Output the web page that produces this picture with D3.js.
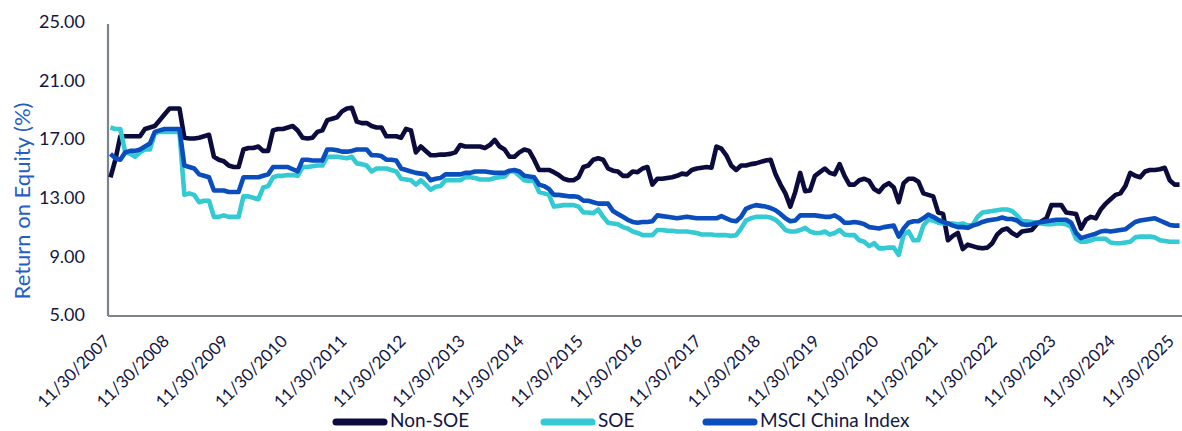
<!DOCTYPE html>
<html>
<head>
<meta charset="utf-8">
<script src="https://cdn.jsdelivr.net/npm/d3@7"></script>
<style>
  html, body { margin: 0; padding: 0; background: #ffffff; }
  svg { display: block; font-family: Lato, "Noto Sans", sans-serif; }
</style>
</head>
<body>
<svg id="chart" width="1182" height="431"></svg>
<script>
// ---- data (monthly, Nov 2007 .. Dec 2025) ----
const firstYear = 2007;
const firstMonth = 10; // November (0-based)
const tickLabels = ["11/30/2007","11/30/2008","11/30/2009","11/30/2010","11/30/2011","11/30/2012",
  "11/30/2013","11/30/2014","11/30/2015","11/30/2016","11/30/2017","11/30/2018","11/30/2019",
  "11/30/2020","11/30/2021","11/30/2022","11/30/2023","11/30/2024","11/30/2025"];
const yTicks = [5, 9, 13, 17, 21, 25];
const seriesNames = ["Non-SOE", "SOE", "MSCI China Index"];

const nonSOE = [
  14.4,15.6,17.2,17.2,17.2,17.2,17.2,17.7,17.8,17.9,18.3,18.7,
  19.1,19.1,19.1,17.1,17.05,17.05,17.1,17.2,17.3,15.8,15.6,15.5,
  15.2,15.1,15.1,16.3,16.4,16.4,16.5,16.2,16.2,17.6,17.7,17.7,
  17.8,17.9,17.6,17.1,17.05,17.1,17.5,17.6,18.3,18.4,18.5,18.9,
  19.1,19.15,18.2,18.1,18.1,17.9,17.8,17.8,17.2,17.2,17.2,17.1,
  17.7,17.6,16.1,16.5,16.2,15.9,15.9,15.95,15.95,16.0,16.1,16.6,
  16.5,16.5,16.5,16.5,16.4,16.6,16.95,16.5,16.3,15.8,15.8,16.1,
  16.3,16.2,15.6,14.9,14.9,14.9,14.75,14.55,14.3,14.2,14.2,14.4,
  15.1,15.2,15.6,15.7,15.6,15.0,14.85,14.8,14.5,14.5,14.8,14.75,
  15.0,15.1,13.9,14.3,14.3,14.35,14.4,14.5,14.65,14.6,14.9,15.0,
  15.05,15.1,15.05,16.5,16.35,15.9,15.2,14.9,15.2,15.2,15.3,15.35,
  15.45,15.55,15.6,14.6,13.9,13.3,12.4,13.4,14.7,13.45,13.5,14.5,
  14.75,15.0,14.7,14.6,15.3,14.5,13.9,13.9,14.2,14.3,14.15,13.6,
  13.4,13.8,14.0,13.7,12.7,14.0,14.3,14.3,14.1,13.3,13.2,13.1,
  12.0,11.9,10.1,10.4,10.6,9.5,9.8,9.7,9.6,9.55,9.6,9.9,
  10.5,10.8,10.9,10.6,10.4,10.7,10.75,10.8,11.2,11.4,11.6,12.5,
  12.5,12.5,12.0,11.95,11.9,10.9,11.5,11.7,11.6,12.2,12.6,12.9,
  13.2,13.3,13.8,14.7,14.5,14.4,14.8,14.9,14.9,14.95,15.05,14.2,
  13.9,13.9
];
const soe = [
  17.8,17.7,17.7,16.1,16.0,15.8,16.1,16.3,16.3,17.4,17.5,17.5,
  17.5,17.5,17.5,13.2,13.3,13.2,12.7,12.8,12.8,11.7,11.7,11.8,
  11.7,11.7,11.7,13.1,13.1,13.0,12.9,13.7,13.8,14.4,14.5,14.5,
  14.55,14.55,14.5,15.1,15.1,15.15,15.2,15.2,15.8,15.8,15.8,15.75,
  15.7,15.8,15.35,15.3,15.2,14.8,15.0,15.0,15.0,14.9,14.8,14.3,
  14.25,14.2,13.9,14.2,13.9,13.55,13.75,13.8,14.2,14.2,14.2,14.2,
  14.4,14.4,14.35,14.25,14.25,14.25,14.35,14.4,14.45,14.8,14.8,14.5,
  14.2,14.15,14.15,13.4,13.3,13.2,12.4,12.45,12.5,12.5,12.5,12.4,
  12.0,12.0,11.95,12.2,11.7,11.3,11.25,11.2,11.0,10.9,10.7,10.6,
  10.45,10.45,10.45,10.8,10.8,10.75,10.75,10.7,10.7,10.7,10.65,10.6,
  10.5,10.5,10.5,10.45,10.45,10.45,10.4,10.45,10.9,11.45,11.6,11.7,
  11.7,11.7,11.65,11.5,11.2,10.8,10.7,10.7,10.8,10.95,10.7,10.6,
  10.6,10.7,10.5,10.6,10.8,10.5,10.45,10.45,10.1,10.0,9.7,9.9,
  9.55,9.55,9.6,9.6,9.1,10.5,10.7,10.1,10.1,11.1,11.5,11.45,
  11.3,11.25,11.25,11.25,11.2,11.25,11.1,11.15,11.7,12.0,12.05,12.1,
  12.15,12.2,12.2,12.1,11.8,11.4,11.4,11.35,11.3,11.25,11.2,11.2,
  11.25,11.25,11.2,11.0,10.2,10.0,10.0,10.1,10.2,10.2,10.2,9.95,
  9.9,9.9,9.95,10.0,10.3,10.35,10.35,10.35,10.3,10.1,10.05,10.0,
  10.0,10.0
];
const msci = [
  16.0,15.7,15.6,16.1,16.2,16.2,16.3,16.5,16.7,17.5,17.6,17.7,
  17.7,17.7,17.7,15.2,15.1,15.0,14.6,14.5,14.4,13.5,13.5,13.5,
  13.4,13.4,13.4,14.4,14.4,14.4,14.4,14.5,14.6,15.1,15.1,15.1,
  15.1,14.95,14.8,15.6,15.6,15.55,15.55,15.55,16.3,16.3,16.25,16.15,
  16.15,16.2,16.3,16.3,16.3,15.9,15.9,15.85,15.6,15.6,15.55,15.0,
  14.9,14.8,14.7,14.65,14.6,14.2,14.3,14.35,14.6,14.6,14.6,14.6,
  14.7,14.7,14.8,14.8,14.8,14.75,14.7,14.7,14.7,14.85,14.9,14.8,
  14.5,14.45,14.4,13.9,13.8,13.6,13.2,13.2,13.15,13.1,13.1,13.05,
  12.8,12.8,12.7,12.6,12.6,12.6,12.1,11.9,11.7,11.5,11.35,11.3,
  11.35,11.35,11.4,11.8,11.75,11.7,11.65,11.6,11.65,11.7,11.65,11.6,
  11.6,11.6,11.6,11.6,11.75,11.6,11.45,11.4,11.7,12.25,12.4,12.5,
  12.45,12.4,12.3,12.15,11.9,11.6,11.4,11.45,11.8,11.8,11.8,11.8,
  11.75,11.7,11.7,11.8,11.6,11.3,11.3,11.35,11.3,11.2,11.0,10.95,
  10.9,11.0,11.05,11.1,10.35,10.9,11.3,11.4,11.4,11.6,11.85,11.7,
  11.5,11.35,11.25,11.1,11.0,11.0,10.95,11.1,11.2,11.35,11.45,11.5,
  11.55,11.65,11.55,11.55,11.45,11.2,11.15,11.2,11.3,11.35,11.4,11.45,
  11.5,11.5,11.5,11.3,10.6,10.25,10.35,10.45,10.55,10.7,10.75,10.7,
  10.75,10.8,10.85,11.1,11.35,11.45,11.5,11.55,11.6,11.45,11.3,11.15,
  11.1,11.1
];

// ---- layout ----
const plotL = 108, plotR = 1182, plotT = 22, plotB = 315;
const colors = ["#0b0b3d", "#33cad3", "#0a4dbd"];
const axisColor = "#7b838c";
const textColor = "#14163f";

const svg = d3.select("#chart");
const n = nonSOE.length;
const idx = d3.range(n);
const x = d3.scalePoint().domain(idx).range([plotL, plotR]).padding(0.5);
const y = d3.scaleLinear().domain([5, 25]).range([plotB, plotT]);

// Y axis
const yAxis = svg.append("g").attr("transform", `translate(${plotL},0)`)
  .call(d3.axisLeft(y).tickValues(yTicks).tickFormat(d3.format(".2f")).tickSize(0).tickPadding(23));
yAxis.select(".domain").attr("stroke", axisColor).attr("stroke-width", 2.2)
  .attr("d", `M0,${plotT + 2}V${plotB + 1}`);
yAxis.selectAll("text").attr("fill", textColor).style("font-size", "18px")
  .style("font-family", "Lato, sans-serif");

// X axis: one label per November
const isNovember = i => (firstMonth + i) % 12 === 10;
const xTickVals = idx.filter(isNovember);
const xAxis = svg.append("g").attr("transform", `translate(0,${plotB + 1})`)
  .call(d3.axisBottom(x).tickValues(xTickVals).tickSize(0)
    .tickFormat((d, k) => tickLabels[k]));
xAxis.select(".domain").attr("stroke", axisColor).attr("stroke-width", 2.2)
  .attr("d", `M${plotL},0H${plotR}`);
xAxis.selectAll("text")
  .attr("fill", textColor).style("font-size", "17px").style("font-family", "Lato, sans-serif")
  .attr("text-anchor", "end")
  .attr("dy", "0.35em")
  .attr("y", 0).attr("x", 0)
  .attr("transform", "translate(-4,22) rotate(-45)");

// Y title
svg.append("text")
  .attr("transform", `translate(30,201) rotate(-90)`)
  .attr("text-anchor", "middle")
  .attr("fill", "#1f5fc6")
  .style("font-size", "22px")
  .text("Return on Equity (%)");

// lines
const series = [nonSOE, soe, msci];
const line = d3.line().x((d, i) => x(i)).y(d => y(d));
series.forEach((s, k) => {
  svg.append("path").datum(s)
    .attr("fill", "none")
    .attr("stroke", colors[k])
    .attr("stroke-width", 4.6)
    .attr("stroke-linejoin", "round")
    .attr("stroke-linecap", "butt")
    .attr("d", line);
});

// legend
const legendX = [333, 541, 703];
const legendY = 420;
seriesNames.forEach((name, k) => {
  const g = svg.append("g").attr("transform", `translate(${legendX[k]},${legendY})`);
  g.append("line").attr("x1", 3).attr("x2", 51).attr("y1", 2).attr("y2", 2)
    .attr("stroke", colors[k]).attr("stroke-width", 7).attr("stroke-linecap", "round");
  g.append("text").attr("x", 57).attr("y", 0).attr("dy", "0.35em")
    .attr("fill", textColor).style("font-size", "19px").text(name);
});
</script>
</body>
</html>
